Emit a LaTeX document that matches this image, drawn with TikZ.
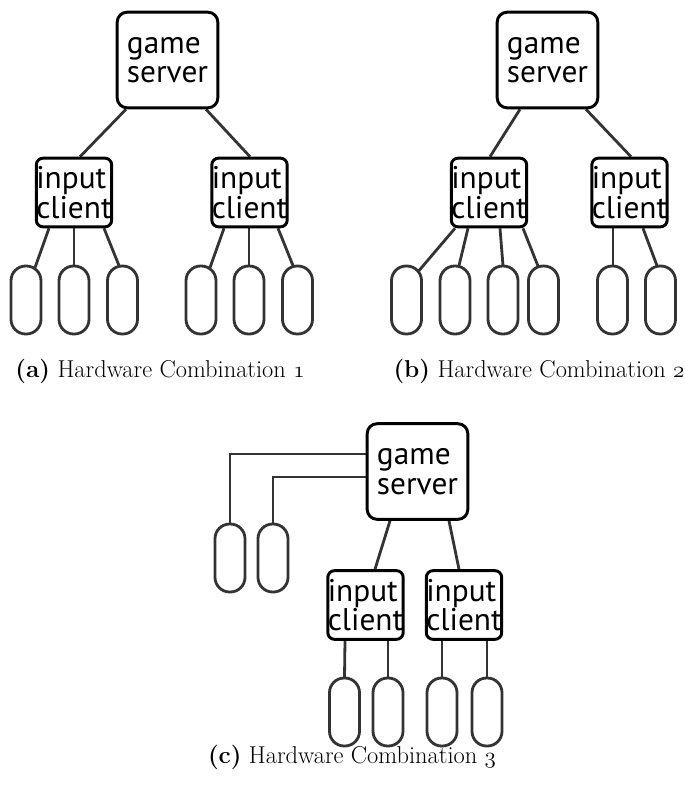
\documentclass[tikz,border=0pt]{standalone}
\usepackage{fontspec}
\newfontfamily\nodefont{PT Sans}
\usetikzlibrary{calc,backgrounds}
\begin{document}
\begin{tikzpicture}[x=0.75pt,y=-0.75pt,
  box/.style={draw, line width=2.2pt, fill=white, align=left, inner sep=0pt,
    font=\nodefont\fontsize{23.5}{22}\selectfont},
  srv/.style={box, minimum width=75.5pt, minimum height=71.75pt, rounded corners=7.5pt},
  cli/.style={box, minimum width=53.75pt, minimum height=51.5pt, rounded corners=5pt},
  pad/.style={draw=black!80, line width=2.1pt, fill=white, minimum width=22.5pt,
    minimum height=51pt, rounded corners=11pt, inner sep=0pt},
  link/.style={draw=black!80, line width=2.1pt},
  captxt/.style={anchor=base, font=\fontsize{18.3}{22}\selectfont}]
\useasboundingbox (0,0) rectangle (685,794);

% ---------- (a) ----------
\node[srv] (sa) at (167.5,60) {game\\server};
\node[cli] (ca1) at (74,192.5) {input\\client};
\node[cli] (ca2) at (249.5,192.5) {input\\client};
\node[pad] (pa1) at (26,300) {};
\node[pad] (pa2) at (74,300) {};
\node[pad] (pa3) at (122.5,300) {};
\node[pad] (pa4) at (201,300) {};
\node[pad] (pa5) at (249,300) {};
\node[pad] (pa6) at (297.5,300) {};

% ---------- (b) ----------
\node[srv] (sb) at (547.5,60) {game\\server};
\node[cli] (cb1) at (489,192.5) {input\\client};
\node[cli] (cb2) at (629.5,192.5) {input\\client};
\node[pad] (pb1) at (406.5,300) {};
\node[pad] (pb2) at (455,300) {};
\node[pad] (pb3) at (503,300) {};
\node[pad] (pb4) at (543.5,300) {};
\node[pad] (pb5) at (612.5,300) {};
\node[pad] (pb6) at (660.5,300) {};

% ---------- (c) ----------
\node[srv] (sc) at (417.5,471.5) {game\\server};
\node[pad] (qc1) at (230,558) {};
\node[pad] (qc2) at (273,558) {};
\node[cli] (cc1) at (365.5,605) {input\\client};
\node[cli] (cc2) at (464,605) {input\\client};
\node[pad] (pc1) at (344.5,712) {};
\node[pad] (pc2) at (388,712) {};
\node[pad] (pc3) at (442,712) {};
\node[pad] (pc4) at (487,712) {};

\begin{pgfonlayer}{background}
% (a)
\draw[link] ($(sa.south)+(-41.5,0)$) -- ($(ca1.north)+(6,0)$);
\draw[link] ($(sa.south)+(38.5,0)$) -- ($(ca2.north)+(0.5,0)$);
\draw[link] ($(ca1.south)+(-25,0)$) -- ($(pa1.north)+(9,3)$);
\draw[link] (ca1.south) -- ($(pa2.north)+(0,1)$);
\draw[link] ($(ca1.south)+(30,0)$) -- ($(pa3.north)+(-3.5,1)$);
\draw[link] ($(ca2.south)+(-25.5,0)$) -- ($(pa4.north)+(9,3)$);
\draw[link] ($(ca2.south)+(-0.5,0)$) -- ($(pa5.north)+(0,1)$);
\draw[link] ($(ca2.south)+(28.5,0)$) -- ($(pa6.north)+(-4.5,1)$);
% (b)
\draw[link] ($(sb.south)+(-27.5,0)$) -- ($(cb1.north)+(1,0)$);
\draw[link] ($(sb.south)+(38.5,0)$) -- ($(cb2.north)+(1.5,0)$);
\draw[link] ($(cb1.south)+(-34,0)$) -- ($(pb1.north)+(12.5,6)$);
\draw[link] ($(cb1.south)+(-21,0)$) -- ($(pb2.north)+(4,1)$);
\draw[link] ($(cb1.south)+(11,0)$) -- ($(pb3.north)+(0,1)$);
\draw[link] ($(cb1.south)+(34,0)$) -- ($(pb4.north)+(-5.5,1.5)$);
\draw[link] ($(cb2.south)+(-16.5,0)$) -- ($(pb5.north)+(0.5,1)$);
\draw[link] ($(cb2.south)+(13.5,0)$) -- ($(pb6.north)+(-3.5,1)$);
% (c)
\draw[link] ($(sc.west)+(0,-17.5)$) -| ($(qc1.north)+(0,1)$);
\draw[link] ($(sc.west)+(0,5.5)$) -| ($(qc2.north)+(0,1)$);
\draw[link] ($(sc.south)+(-27.5,0)$) -- ($(cc1.north)+(9.5,0)$);
\draw[link] ($(sc.south)+(31.5,0)$) -- ($(cc2.north)+(-5,0)$);
\draw[link] ($(cc1.south)+(-20.5,0)$) -- ($(pc1.north)+(0,1)$);
\draw[link] ($(cc1.south)+(22.5,0)$) -- ($(pc2.north)+(0,1)$);
\draw[link] ($(cc2.south)+(-22,0)$) -- ($(pc3.north)+(0,1)$);
\draw[link] ($(cc2.south)+(23,0)$) -- ($(pc4.north)+(0,1)$);
\end{pgfonlayer}

% captions
\node[captxt] (capa) at (160,377) {\textbf{(a)} Hardware Combination $\mathnormal{1}$};
\node[captxt] (capb) at (539,377) {\textbf{(b)} Hardware Combination $\mathnormal{2}$};
\node[captxt] (capc) at (352,763) {\textbf{(c)} Hardware Combination $\mathnormal{3}$};
\end{tikzpicture}
\end{document}
